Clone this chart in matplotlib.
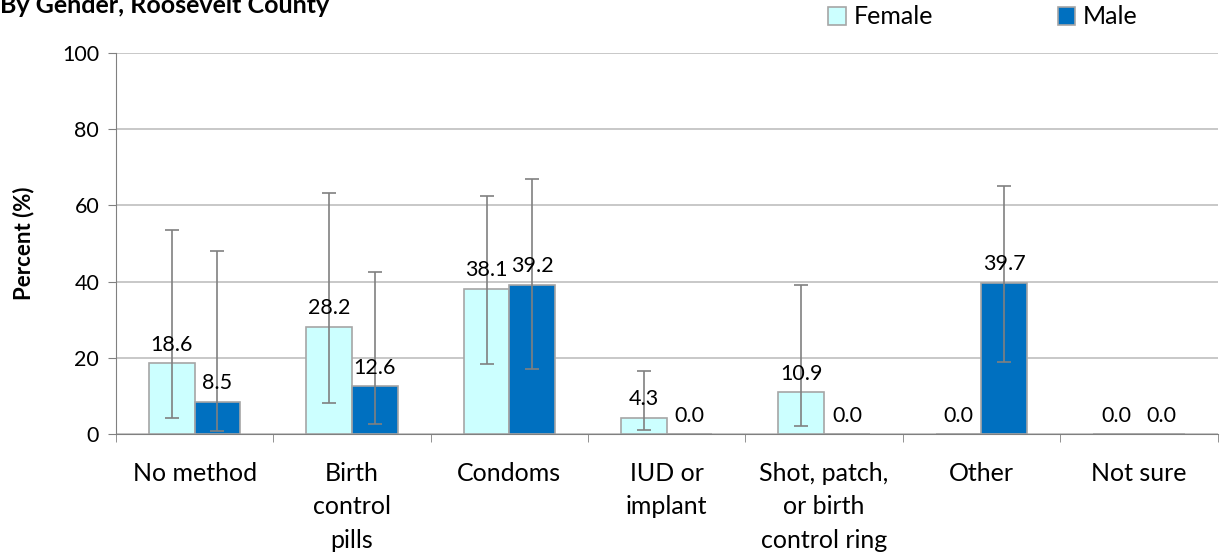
import numpy as np
import matplotlib.pyplot as plt

# Datos por categoria
categorias = ["No method", "Birth\ncontrol\npills", "Condoms", "IUD or\nimplant",
              "Shot, patch,\nor birth\ncontrol ring", "Other", "Not sure"]
female = [18.6, 28.2, 38.1, 4.3, 10.9, 0.0, 0.0]
male = [8.5, 12.6, 39.2, 0.0, 0.0, 39.7, 0.0]

# Intervalos de confianza (inferior, superior)
female_lo = [4.2, 8.1, 18.5, 1.0, 2.2, None, None]
female_hi = [53.5, 63.3, 62.4, 16.5, 39.2, None, None]
male_lo = [0.8, 2.6, 17.0, None, None, 18.9, None]
male_hi = [48.0, 42.5, 67.0, None, None, 65.0, None]

plt.rcParams['font.family'] = ['Lato', 'DejaVu Sans']

fig = plt.figure(figsize=(12.2, 5.54), dpi=100)
ax = fig.add_axes([0.095, 0.2166, 0.903, 0.6877])

x = np.arange(len(categorias))
w = 0.29
gris = "#808080"

bf = ax.bar(x - w / 2, female, w, color="#CCFFFF", edgecolor="#A6A6A6", linewidth=1.2,
            label="Female", zorder=2)
bm = ax.bar(x + w / 2, male, w, color="#0070C0", edgecolor="#A6A6A6", linewidth=1.2,
            label="Male", zorder=2)

# Barras de error
def errores(xs, vals, lo, hi):
    for xi, v, l, h in zip(xs, vals, lo, hi):
        if l is None:
            continue
        ax.errorbar(xi, v, yerr=[[v - l], [h - v]], fmt="none", ecolor=gris,
                    elinewidth=1.2, capsize=5, capthick=1.2, zorder=3)

errores(x - w / 2, female, female_lo, female_hi)
errores(x + w / 2, male, male_lo, male_hi)

# Etiquetas de valores
for xs, vals in ((x - w / 2, female), (x + w / 2, male)):
    for xi, v in zip(xs, vals):
        ax.text(xi, v + 2.2, f"{v:.1f}", ha="center", va="bottom", fontsize=15.5, zorder=4)

ax.set_ylim(0, 100)
ax.set_xlim(-0.5, len(categorias) - 0.5)
ax.set_yticks(range(0, 101, 20))
ax.yaxis.grid(True, color="#BFBFBF", linewidth=1.2, zorder=0)
ax.set_axisbelow(True)

ax.set_xticks(x)
ax.set_xticklabels(categorias, fontsize=18, linespacing=1.55)
ax.tick_params(axis="x", length=0, pad=20)
ax.set_xticks(np.arange(-0.5, len(categorias), 1), minor=True)
ax.tick_params(axis="x", which="minor", length=6, color=gris, direction="out")
ax.tick_params(axis="y", labelsize=15.5, length=6, color=gris, direction="out", pad=6)

for s in ("top", "right"):
    ax.spines[s].set_visible(False)
ax.spines["left"].set_color(gris)
ax.spines["bottom"].set_color(gris)

ax.set_ylabel("Percent (%)", fontsize=16, fontweight="bold", labelpad=20)

fig.text(0.0, 1 - 13 / 554, "By Gender, Roosevelt County", fontsize=18,
         fontweight="bold", ha="left", va="baseline")

fig.legend(handles=[bf, bm], loc="center left", bbox_to_anchor=(0.679, 1 - 17 / 554),
           ncol=2, frameon=False, fontsize=18, columnspacing=5.0, handlelength=0.7,
           handleheight=0.7, handletextpad=0.3, borderaxespad=0, borderpad=0)

fig.savefig("out.png", dpi=100)
